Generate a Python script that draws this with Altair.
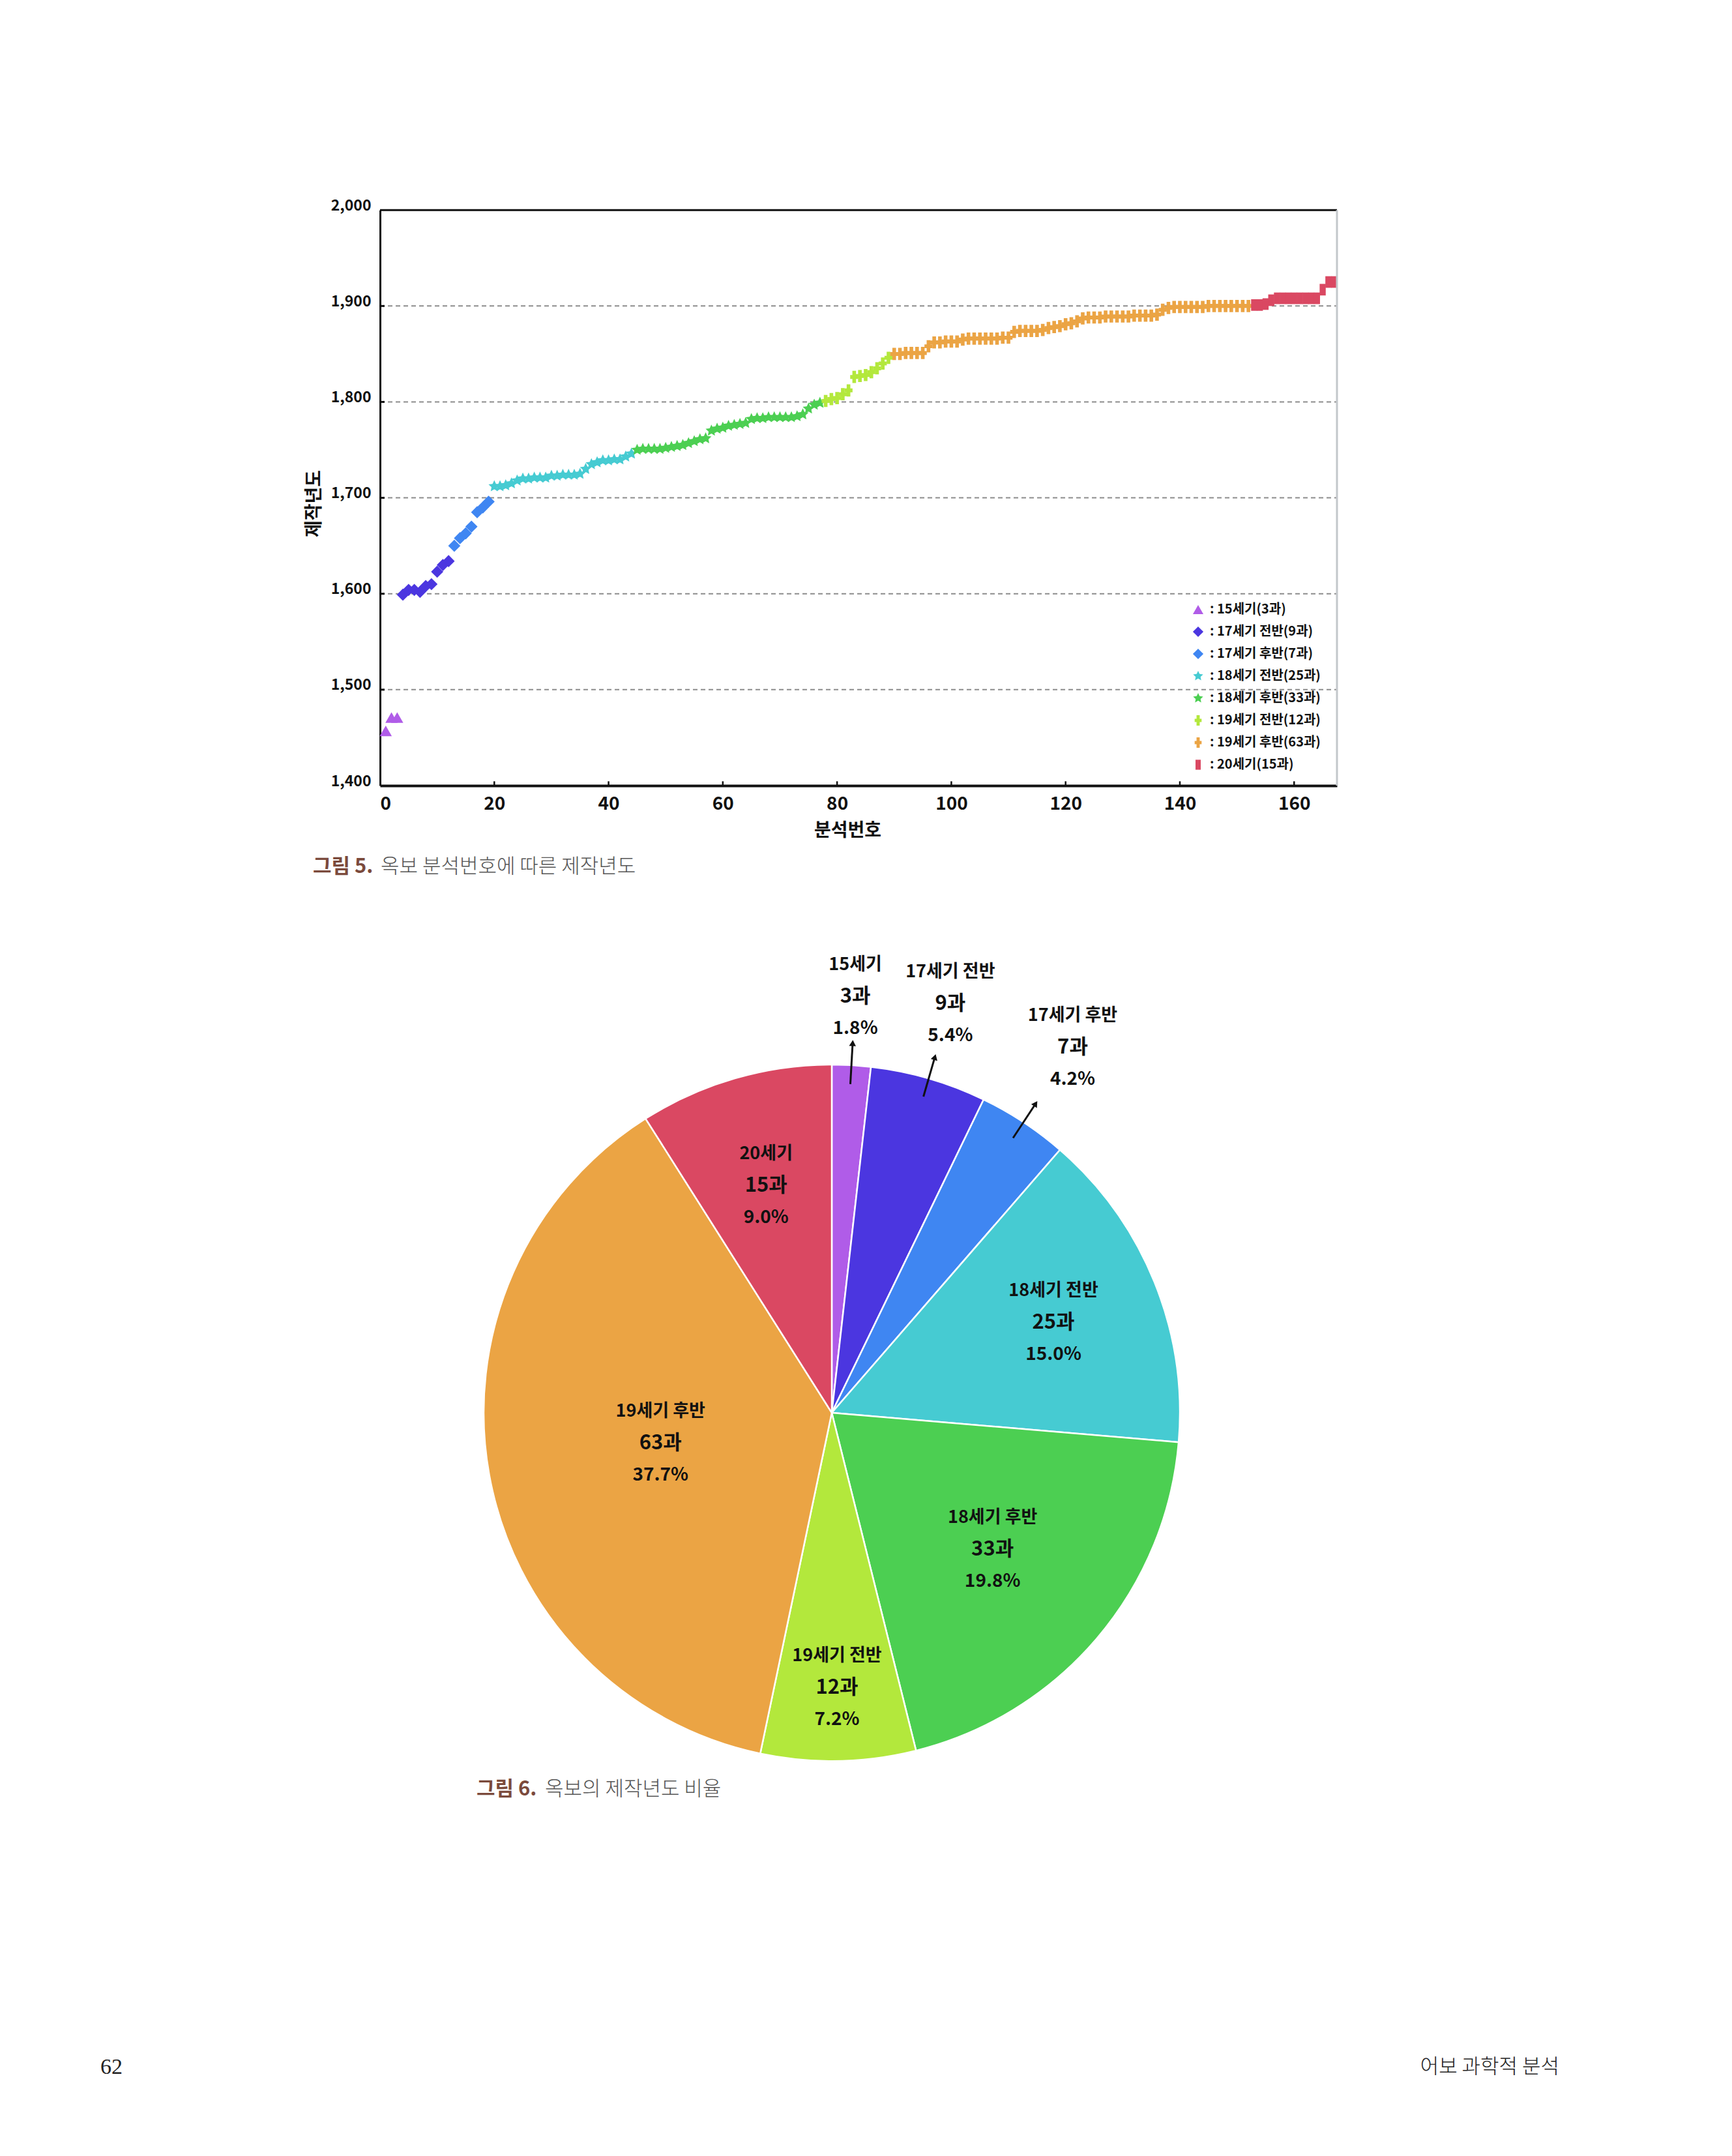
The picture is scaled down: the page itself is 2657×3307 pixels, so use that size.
import altair as alt
import numpy as np
import pandas as pd

KFONT = "Noto Sans CJK KR"

# ---------------- data ----------------
CATEGORIES = ["15세기", "17세기 전반", "17세기 후반", "18세기 전반",
              "18세기 후반", "19세기 전반", "19세기 후반", "20세기"]
COUNTS = [3, 9, 7, 25, 33, 12, 63, 15]
COLORS = ["#b05ce8", "#4b36e0", "#3f86f2", "#46cbd2",
          "#4ccf52", "#b3e83c", "#eba444", "#da4862"]

Y_15 = [1457, 1471, 1471]
Y_17A = [1599, 1604, 1604, 1602, 1608, 1610, 1623, 1630, 1634]
Y_17B = [1650, 1658, 1663, 1670, 1685, 1690, 1696]
Y_18A = [1712, 1712, 1713, 1715, 1718, 1720, 1720, 1721, 1721, 1721, 1723, 1723,
         1724, 1724, 1724, 1725, 1730, 1735, 1737, 1739, 1739, 1740, 1740, 1743, 1746]
Y_18B = [1750, 1751, 1751, 1751, 1751, 1752, 1753, 1754, 1755, 1757, 1759, 1761,
         1762, 1770, 1772, 1773, 1775, 1776, 1777, 1778, 1782, 1783, 1783, 1784,
         1784, 1784, 1784, 1784, 1785, 1787, 1793, 1797, 1799]
Y_19A = [1801, 1803, 1804, 1808, 1812, 1826, 1827, 1828, 1831, 1835, 1840, 1846]
Y_19B = [1850, 1850, 1851, 1851, 1851, 1851, 1858, 1862, 1862, 1863, 1863, 1863,
         1865, 1866, 1866, 1866, 1866, 1866, 1866, 1867, 1867,
         1873, 1874, 1874, 1874, 1874, 1875, 1877, 1878, 1879, 1881, 1882, 1884,
         1887, 1888, 1888, 1888, 1889, 1889, 1889, 1889, 1889, 1890, 1890, 1890,
         1890, 1891, 1896, 1898, 1899, 1899, 1899, 1899, 1899, 1899,
         1900, 1900, 1900, 1900, 1900, 1900, 1900, 1900]
Y_20 = [1901, 1901, 1902, 1906, 1908, 1908, 1908, 1908, 1908, 1908, 1908, 1908,
        1917, 1925, 1925]
YEAR_LISTS = [Y_15, Y_17A, Y_17B, Y_18A, Y_18B, Y_19A, Y_19B, Y_20]

X_TICKS = [0, 20, 40, 60, 80, 100, 120, 140, 160]
Y_TICKS = [1400, 1500, 1600, 1700, 1800, 1900, 2000]
GRID_YEARS = [1500, 1600, 1700, 1800, 1900]

# ---------------- styles / layout ----------------
def star_path(points=5, inner=0.48):
    parts = []
    for k in range(points * 2):
        r = 1.0 if k % 2 == 0 else inner
        a = -np.pi / 2 + k * np.pi / points
        parts.append(f"{r * np.cos(a):.3f},{r * np.sin(a):.3f}")
    return "M" + "L".join(parts) + "Z"


STAR = star_path()
CROSS = "M-0.3,-1L0.3,-1L0.3,-0.32L0.66,-0.32L0.66,0.32L0.3,0.32L0.3,1L-0.3,1L-0.3,0.32L-0.66,0.32L-0.66,-0.32L-0.3,-0.32Z"
TALLSQ = "M-0.5,-0.95L0.5,-0.95L0.5,0.95L-0.5,0.95Z"
SHAPES = ["triangle-up", "diamond", "diamond", STAR, STAR, CROSS, CROSS, TALLSQ]
LEG_LABELS = [f": {c}({n}과)" for c, n in zip(CATEGORIES, COUNTS)]

XMAX = 167.5
X_RANGE = [575, 2043]
Y_RANGE = [1197, 314.2]
VIEW_W, VIEW_H = 2620, 3270

rows = []
n = 1
for cat, lab, ys in zip(CATEGORIES, LEG_LABELS, YEAR_LISTS):
    for y in ys:
        rows.append({"n": n, "year": y, "leg": lab})
        n += 1
scatter_df = pd.DataFrame(rows)

X_SCALE = alt.Scale(domain=[0, XMAX], range=X_RANGE, nice=False, zero=False)
Y_SCALE = alt.Scale(domain=[1400, 2000], range=Y_RANGE, nice=False, zero=False)

X_AXIS = alt.Axis(values=X_TICKS, offset=Y_RANGE[0] - VIEW_H, grid=False, ticks=False,
                  domainColor="#111", domainWidth=4, labelFont=KFONT, labelFontSize=28,
                  labelFontWeight=600, labelColor="#111", labelPadding=28,
                  labelBaseline="middle", title="분석번호", titleFont=KFONT,
                  titleFontSize=28, titleFontWeight="bold", titleColor="#111",
                  titleX=1292, titleY=69, titleBaseline="middle", titleAlign="center")
Y_AXIS = alt.Axis(values=Y_TICKS, format=",d", offset=-X_RANGE[0], grid=False,
                  ticks=False, domainColor="#111", domainWidth=3, labelFont=KFONT,
                  labelFontSize=23, labelFontWeight="bold", labelColor="#111",
                  labelPadding=14, labelBaseline="alphabetic", title="제작년도",
                  titleFont=KFONT, titleFontSize=28, titleFontWeight="bold",
                  titleColor="#111", titleX=-101, titleY=764, titleAngle=-90,
                  titleBaseline="middle", titleAlign="center")

one = pd.DataFrame({"k": [0]})

grid = alt.Chart(pd.DataFrame({"year": GRID_YEARS})).mark_rule(
    color="#8c8c8c", strokeDash=[7, 5], strokeWidth=2
).encode(
    y=alt.Y("year:Q", scale=Y_SCALE, axis=Y_AXIS),
    x=alt.datum(0), x2=alt.datum(XMAX),
)
ytick = alt.Chart(pd.DataFrame({"year": GRID_YEARS})).mark_rule(
    color="#111", strokeWidth=3
).encode(
    y=alt.Y("year:Q", scale=Y_SCALE, axis=Y_AXIS),
    x=alt.datum(0), x2=alt.datum(0.8),
)
xtick = alt.Chart(pd.DataFrame({"n": X_TICKS[1:]})).mark_rule(
    color="#111", strokeWidth=2.5
).encode(
    x=alt.X("n:Q", scale=X_SCALE, axis=X_AXIS),
    y=alt.datum(1400), y2=alt.datum(1404.5),
)
top_border = alt.Chart(one).mark_rule(color="#111", strokeWidth=3).encode(
    y=alt.datum(2000), x=alt.datum(0), x2=alt.datum(XMAX))
right_border = alt.Chart(one).mark_rule(color="#c3c7cb", strokeWidth=3).encode(
    x=alt.datum(XMAX), y=alt.datum(1400), y2=alt.datum(2000))

points = alt.Chart(scatter_df).mark_point(filled=True, size=350, opacity=1).encode(
    x=alt.X("n:Q", scale=X_SCALE, axis=X_AXIS),
    y=alt.Y("year:Q", scale=Y_SCALE, axis=Y_AXIS),
    color=alt.Color("leg:N", scale=alt.Scale(domain=LEG_LABELS, range=COLORS),
                    legend=alt.Legend(orient="none", legendX=1820, legendY=917,
                                      title=None, padding=0, labelFont=KFONT,
                                      labelFontSize=20, labelFontWeight="bold",
                                      labelColor="#111", symbolSize=260,
                                      rowPadding=14, labelOffset=8, labelLimit=400,
                                      symbolStrokeWidth=0)),
    shape=alt.Shape("leg:N", scale=alt.Scale(domain=LEG_LABELS, range=SHAPES)),
)

scatter = alt.layer(grid, ytick, xtick, points, top_border, right_border)

# ---------------- pie ----------------
CX, CY, R = 1268, 2159, 534
LABEL_R = {"15세기": 639, "17세기 전반": 653, "17세기 후반": 671, "18세기 전반": 367,
           "18세기 후반": 324, "19세기 전반": 422, "19세기 후반": 267, "20세기": 362}
total = sum(COUNTS)
cum = np.cumsum(COUNTS)
mid = (cum - np.array(COUNTS) / 2) / total * 2 * np.pi

pie_df = pd.DataFrame({
    "cat": CATEGORIES,
    "count": COUNTS,
    "idx": list(range(len(CATEGORIES))),
})
lr = pie_df["cat"].map(LABEL_R).to_numpy()
pie_df["lx"] = CX + lr * np.sin(mid)
pie_df["ly"] = CY - lr * np.cos(mid)
pie_df["cnt"] = pie_df["count"].astype(str) + "과"
pie_df["pct"] = [f"{c / total * 100:.1f}%" for c in COUNTS]

arcs = alt.Chart(pie_df).mark_arc(outerRadius=R, stroke="white", strokeWidth=2.5).encode(
    theta=alt.Theta("count:Q", stack=True),
    color=alt.Color("cat:N", scale=alt.Scale(domain=CATEGORIES, range=COLORS), legend=None),
    order=alt.Order("idx:Q"),
    x=alt.value(CX), y=alt.value(CY),
)


def label_layer(field, size, dy):
    return alt.Chart(pie_df).mark_text(
        font=KFONT, fontSize=size, fontWeight="bold", color="#111", dy=dy,
        align="center", baseline="middle"
    ).encode(
        x=alt.X("lx:Q", scale=None, axis=None),
        y=alt.Y("ly:Q", scale=None, axis=None),
        text=alt.Text(f"{field}:N"),
    )


lab_name = label_layer("cat", 27, -49)
lab_cnt = label_layer("cnt", 31, 0)
lab_pct = label_layer("pct", 28, 49)

arr = pd.DataFrame({"mid": mid[:3]})
R1, R2, RH = 505, 566, 568
arr["x1"] = CX + R1 * np.sin(arr["mid"])
arr["y1"] = CY - R1 * np.cos(arr["mid"])
arr["x2"] = CX + R2 * np.sin(arr["mid"])
arr["y2"] = CY - R2 * np.cos(arr["mid"])
arr["hx"] = CX + RH * np.sin(arr["mid"])
arr["hy"] = CY - RH * np.cos(arr["mid"])
arr["deg"] = arr["mid"] * 180 / np.pi

arrows = alt.Chart(arr).mark_rule(color="#111", strokeWidth=3).encode(
    x=alt.X("x1:Q", scale=None, axis=None), y=alt.Y("y1:Q", scale=None, axis=None),
    x2="x2:Q", y2="y2:Q")
heads = alt.Chart(arr).mark_point(shape="triangle-up", filled=True, size=110,
                                  color="#111", opacity=1).encode(
    x=alt.X("hx:Q", scale=None, axis=None), y=alt.Y("hy:Q", scale=None, axis=None),
    angle=alt.Angle("deg:Q", scale=None))


def txt(text, x, y, size, color, weight="normal", align="left", font=KFONT):
    return alt.Chart(one).mark_text(
        text=text, font=font, fontSize=size, fontWeight=weight, color=color,
        align=align, baseline="middle"
    ).encode(x=alt.value(x), y=alt.value(y))


cap5a = txt("그림 5.", 472, 1322, 31, "#7b4a3c", "bold")
cap5b = txt("옥보 분석번호에 따른 제작년도", 576, 1322, 31, "#555555", 300)
cap6a = txt("그림 6.", 723, 2737, 31, "#7b4a3c", "bold")
cap6b = txt("옥보의 제작년도 비율", 828, 2737, 31, "#555555", 300)
foot_l = txt("62", 146, 3163, 34, "#222222", "normal", "left", "Liberation Serif")
foot_r = txt("어보 과학적 분석", 2384, 3163, 31, "#222222", 300, "right")

chart = alt.layer(
    scatter, arcs, lab_name, lab_cnt, lab_pct, arrows, heads,
    cap5a, cap5b, cap6a, cap6b, foot_l, foot_r,
).resolve_scale(
    x="independent", y="independent", color="independent", shape="independent"
).properties(
    width=VIEW_W, height=VIEW_H, padding=0,
    autosize=alt.AutoSizeParams(type="none"),
    background="white",
).configure_view(stroke=None)

chart.save("out.html", embed_options={"renderer": "svg", "actions": False})
